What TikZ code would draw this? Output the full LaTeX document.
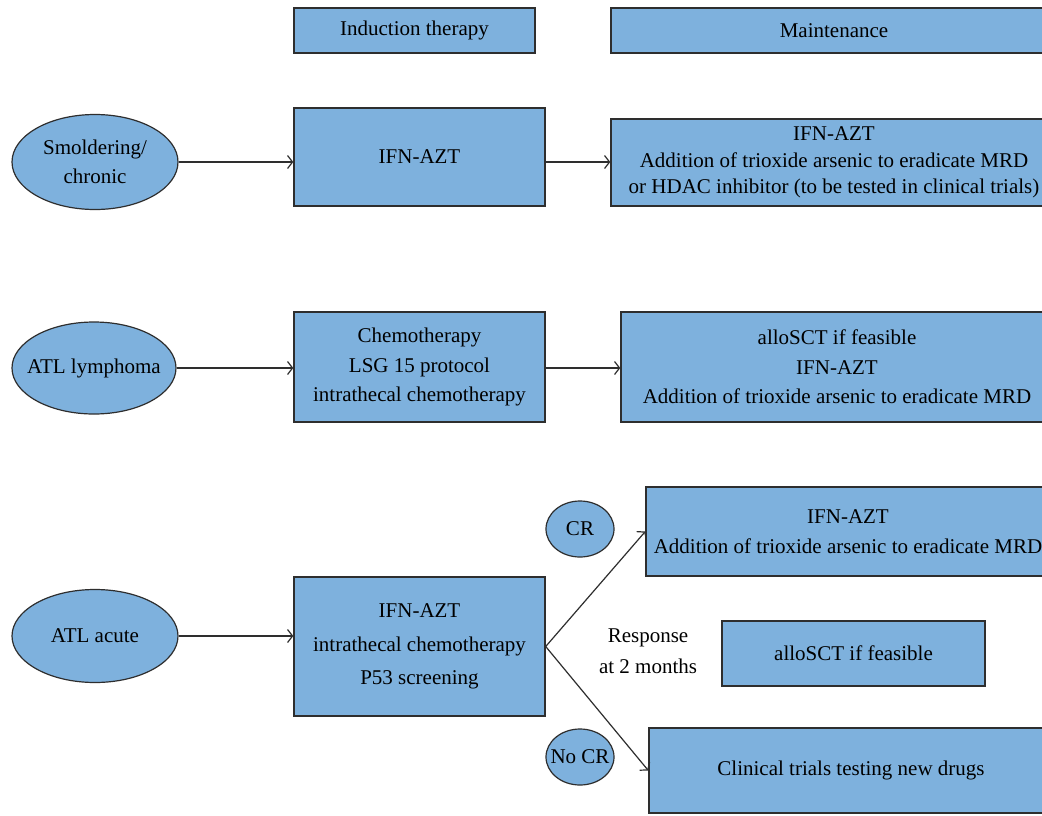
\documentclass[tikz,border=0pt]{standalone}
\usepackage{fontspec}
\setmainfont{Liberation Serif}
\usetikzlibrary{shapes.geometric,arrows.meta}
\definecolor{boxblue}{HTML}{7EB1DD}
\definecolor{edge}{HTML}{2E2E2E}
\newcommand\zwbox[1]{\makebox[0pt]{#1}}
\begin{document}
\begin{tikzpicture}[x=1pt,y=-1pt,
  box/.style={draw=edge,line width=1.4pt,fill=boxblue,rectangle,inner sep=0pt,align=center,font=\fontsize{21}{26}\selectfont},
  oval/.style={draw=edge,line width=1.2pt,fill=boxblue,ellipse,inner sep=0pt,align=center,font=\fontsize{21}{29}\selectfont},
  arr/.style={line width=1.2pt,draw=edge,-{Straight Barb[length=5pt,width=13pt]}},
  plain/.style={inner sep=0pt,align=center,font=\fontsize{21}{31}\selectfont}]
\useasboundingbox (0,0) rectangle (1042,815);
\clip (0,0) rectangle (1042,815);
\fill[white] (0,0) rectangle (1042,815);
% headers
\node[box,minimum width=241pt,minimum height=45pt] (ind) at (414.5,30.5) {Induction therapy};
\node[box,minimum width=446pt,minimum height=45pt] (mnt) at (834,30.5) {Maintenance};
% row 1
\node[oval,minimum width=166pt,minimum height=95pt] (e1) at (95,162) {\zwbox{Smoldering/}\\\zwbox{chronic}};
\node[box,minimum width=251pt,minimum height=98pt] (b1) at (419.5,157) {IFN-AZT};
\node[box,minimum width=446pt,minimum height=87pt,font=\fontsize{21}{26.5}\selectfont] (m1) at (834,162.5) {IFN-AZT\\Addition of trioxide arsenic to eradicate MRD\\or HDAC inhibitor (to be tested in clinical trials)};
% row 2
\node[oval,minimum width=164pt,minimum height=92pt] (e2) at (94,368) {\zwbox{ATL lymphoma}};
\node[box,minimum width=251pt,minimum height=110pt,font=\fontsize{21}{29.5}\selectfont] (b2) at (419.5,367) {Chemotherapy\\LSG 15 protocol\\intrathecal chemotherapy};
\node[box,minimum width=432pt,minimum height=110pt,font=\fontsize{21}{29.5}\selectfont] (m2) at (837,367) {alloSCT if feasible\\IFN-AZT\\Addition of trioxide arsenic to eradicate MRD};
% row 3
\node[oval,minimum width=166pt,minimum height=93pt] (e3) at (95,636) {\zwbox{ATL acute}};
\node[box,minimum width=251pt,minimum height=139pt,font=\fontsize{21}{33.5}\selectfont] (b3) at (419.5,646.5) {IFN-AZT\\intrathecal chemotherapy\\P53 screening};
\node[oval,minimum width=68pt,minimum height=56pt] (cr) at (580,529) {\zwbox{CR}};
\node[oval,minimum width=68pt,minimum height=56pt] (nocr) at (580,757) {\zwbox{No CR}};
\node[box,minimum width=404pt,minimum height=89pt,font=\fontsize{21}{30}\selectfont] (crb) at (848,531.5) {IFN-AZT\\Addition of trioxide arsenic to eradicate MRD};
\node[plain] (resp) at (648,651.5) {Response\\at 2 months};
\node[box,minimum width=263pt,minimum height=65pt] (allo) at (853.5,653.5) {alloSCT if feasible};
\node[box,minimum width=404pt,minimum height=85pt] (clin) at (851,770.5) {Clinical trials testing new drugs};
% connectors
\draw[arr] (e1.east) -- (e1.east -| b1.west);
\draw[arr] (b1.east |- e1.east) -- (m1.west |- e1.east);
\draw[arr] (e2.east) -- (e2.east -| b2.west);
\draw[arr] (b2.east |- e2.east) -- (m2.west |- e2.east);
\draw[arr] (e3.east) -- (e3.east -| b3.west);
\draw[arr] (b3.east) -- (crb.west);
\draw[arr] (b3.east) -- (clin.west);
\end{tikzpicture}
\end{document}
